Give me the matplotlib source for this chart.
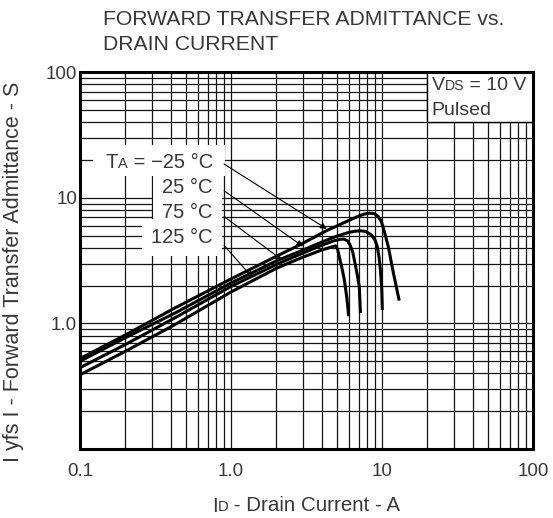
import numpy as np
import matplotlib
matplotlib.use("Agg")
import matplotlib.pyplot as plt
from matplotlib import ticker
from matplotlib.patches import Rectangle

plt.rcParams['font.family'] = ['Liberation Sans', 'DejaVu Sans']

TXT = '#383838'
DESC = 0.21   # descent of "lp" as a fraction of the font size

# curves: drain current (A) vs |yfs| (S)
ID_M25 = [0.1, 0.2, 0.426, 1.0, 2.0, 2.86, 4.3, 5.3, 6.14, 7.0, 7.6, 8.3, 8.9, 9.4, 9.9, 10.4, 11.0, 11.9, 13.0]
YFS_M25 = [0.525, 0.81, 1.33, 2.26, 3.43, 4.23, 5.49, 6.15, 6.68, 7.15, 7.42, 7.55, 7.48, 7.15, 6.5, 5.3, 4.10, 2.52, 1.52]

ID_25 = [0.1, 0.2, 0.426, 1.0, 2.0, 2.86, 4.0, 5.0, 6.0, 6.6, 7.2, 7.8, 8.5, 9.0, 9.3, 9.55, 9.75, 9.95, 10.05]
YFS_25 = [0.50, 0.77, 1.21, 2.10, 3.15, 3.75, 4.45, 4.95, 5.3, 5.42, 5.47, 5.40, 5.08, 4.6, 4.1, 3.4, 2.7, 1.95, 1.28]

ID_75 = [0.1, 0.2, 0.426, 1.0, 2.0, 2.86, 4.0, 4.8, 5.3, 5.6, 5.9, 6.14, 6.4, 6.62, 6.85, 7.07, 7.2]
YFS_75 = [0.444, 0.68, 1.11, 1.97, 2.95, 3.55, 4.2, 4.55, 4.68, 4.69, 4.55, 4.23, 3.7, 3.03, 2.45, 1.97, 1.21]

ID_125 = [0.1, 0.2, 0.426, 1.0, 2.0, 2.86, 4.0, 4.6, 4.92, 5.08, 5.24, 5.45, 5.63, 5.85, 6.02]
YFS_125 = [0.39, 0.60, 0.98, 1.78, 2.75, 3.30, 3.85, 4.05, 4.15, 3.9, 3.31, 2.7, 2.23, 1.6, 1.14]

TEMPS = ['\u221225 \u00b0C', '25 \u00b0C', '75 \u00b0C', '125 \u00b0C']
# where each label's arrow touches its curve
ARROW_TIPS = [(4.30, 5.66), (3.0, 4.10), (2.17, 3.21), (1.39, 2.31)]
ARROW_FROM = [(0.90, 18.6), (0.90, 11.4), (0.90, 7.10), (0.90, 4.18)]

X_TICKS = [0.1, 1.0, 10, 100]
X_LABELS = ['0.1', '1.0', '10', '100']
Y_TICKS = [1.0, 10, 100]
Y_LABELS = ['1.0', '10', '100']

W, H = 553, 518
fig = plt.figure(figsize=(W / 100, H / 100), dpi=100)
ax = fig.add_axes([80 / W, 1 - 449 / H, 453 / W, (449 - 72.3) / H])


def fx(px):
    return px / W


def fy(py):
    return 1 - py / H


def chain(x, y, parts, size, align='left', zorder=4, bbox=None):
    # parts = [(text, small)], small pieces are small caps sitting on the baseline
    sizes = [size * 0.72 if small else size for _, small in parts]
    order = list(range(len(parts)))
    if align == 'right':
        order = order[::-1]
    prev = None
    for i in order:
        s = parts[i][0]
        if prev is None:
            t = ax.text(x, y, s, fontsize=sizes[i], color=TXT, ha=align, va='baseline',
                        transform=fig.transFigure, zorder=zorder, bbox=bbox)
        else:
            t = ax.annotate(s, xy=(1 if align == 'left' else 0, 0), xycoords=prev,
                            xytext=(0, DESC * prev_size), textcoords='offset points',
                            fontsize=sizes[i], color=TXT, ha=align, va='baseline',
                            zorder=zorder, annotation_clip=False)
        prev, prev_size = t, sizes[i]


for xs, ys in [(ID_M25, YFS_M25), (ID_25, YFS_25), (ID_75, YFS_75), (ID_125, YFS_125)]:
    ax.plot(xs, ys, color='black', lw=2.2, solid_capstyle='butt', zorder=2)

ax.set_xscale('log')
ax.set_yscale('log')
ax.set_xlim(0.1, 100)
ax.set_ylim(0.1, 100)
ax.set_xticks(X_TICKS)
ax.set_xticklabels(X_LABELS)
ax.set_yticks(Y_TICKS)
ax.set_yticklabels(Y_LABELS)
for a in (ax.xaxis, ax.yaxis):
    a.set_minor_locator(ticker.LogLocator(base=10, subs=np.arange(2, 10), numticks=20))
    a.set_minor_formatter(ticker.NullFormatter())
ax.tick_params(which='both', length=0, labelsize=13.5, labelcolor=TXT)
ax.tick_params(axis='x', pad=10)
ax.tick_params(axis='y', pad=2)
ax.set_axisbelow(True)
ax.grid(True, which='both', color='#141414', lw=0.9)
for sp in ax.spines.values():
    sp.set_linewidth(2.2)
    sp.set_zorder(6)

# VDS box in the upper right corner
ax.add_patch(Rectangle((20, 40), 80, 60, facecolor='white', edgecolor='black', lw=1.0, zorder=2.4))
chain(fx(431.7), fy(90), [('V', False), ('DS', True), (' = 10 V', False)], 14)
ax.text(fx(431.7), fy(115), 'Pulsed', fontsize=14, color=TXT, ha='left', va='baseline',
        transform=fig.transFigure, zorder=4)

# temperature labels with arrows
white = dict(boxstyle='square,pad=0.45', facecolor='white', edgecolor='none')
ax.add_patch(Rectangle((fx(93), fy(176)), fx(225) - fx(93), fy(145) - fy(176),
                       transform=fig.transFigure, facecolor='white', edgecolor='none', zorder=3))
base = [168, 193, 218, 243.3]
for k, lab in enumerate(TEMPS):
    if k == 0:
        chain(fx(213), fy(base[k]), [('T', False), ('A', True), (' = ' + lab, False)], 14.5, align='right')
    else:
        chain(fx(213), fy(base[k]), [(lab, False)], 14.5, align='right', zorder=3.5, bbox=white)
    ax.annotate('', xy=ARROW_TIPS[k], xytext=ARROW_FROM[k],
                arrowprops=dict(arrowstyle='-|>', color='black', lw=0.8, mutation_scale=9,
                                shrinkA=0, shrinkB=0), zorder=5)

# titles and axis labels
fig.text(fx(103.3), fy(25), 'FORWARD TRANSFER ADMITTANCE vs.', fontsize=15.2, color=TXT, va='baseline')
fig.text(fx(103.3), fy(50), 'DRAIN CURRENT', fontsize=15.2, color=TXT, va='baseline')
fig.text(fx(14), fy(272), 'I yfs I - Forward Transfer Admittance - S', fontsize=15.5, color=TXT,
         rotation=90, ha='center', va='center')
chain(fx(211.7), fy(511.5), [('I', False), ('D', True), (' - Drain Current - A', False)], 14.8)

fig.savefig('out.png', dpi=100)
